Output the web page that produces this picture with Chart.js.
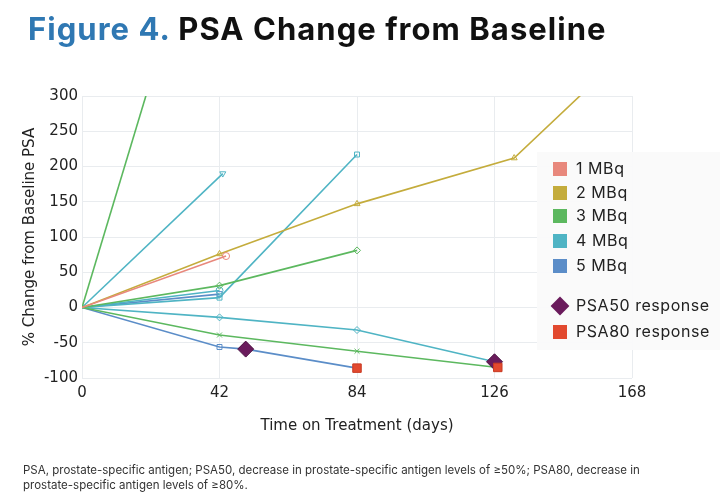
<!DOCTYPE html>
<html>
<head>
<meta charset="utf-8">
<script src="https://cdn.jsdelivr.net/npm/chart.js@4"></script>
<style>
  body { margin: 0; background: #fff; font-family: Inter, "Noto Sans", sans-serif; }
  #wrap { position: relative; width: 724px; height: 500px; overflow: hidden; }
  #chart { position: absolute; left: 0; top: 0; }
  #title { position: absolute; left: 28px; top: 10px; font-size: 31px; font-weight: 700; color: #111; letter-spacing: 1.05px; white-space: nowrap; }
  #title span { color: #2f78b3; }
  #legend { position: absolute; left: 537px; top: 152px; width: 183px; height: 198px; background: rgba(250,250,250,0.95); }
  .item { position: absolute; left: 16px; font-size: 16px; color: #222; white-space: nowrap; line-height: 18px; letter-spacing: 0.55px; }
  .sw { display: inline-block; width: 14px; height: 14px; vertical-align: -2px; margin-right: 9px; }
  #note { position: absolute; left: 23px; top: 463px; width: 660px; font-size: 11.5px; line-height: 15px; color: #333; }
</style>
</head>
<body>
<div id="wrap">
  <canvas id="chart" width="724" height="500"></canvas>
  <div id="title"><span>Figure 4.</span> PSA Change from Baseline</div>
  <div id="legend"></div>
  <div id="note">PSA, prostate-specific antigen; PSA50, decrease in prostate-specific antigen levels of ≥50%; PSA80, decrease in prostate-specific antigen levels of ≥80%.</div>
</div>
<script>
// data
const doseLabels = ['1 MBq', '2 MBq', '3 MBq', '4 MBq', '5 MBq'];
const xTicks = [0, 42, 84, 126, 168];
const yTicks = [-100, -50, 0, 50, 100, 150, 200, 250, 300];

// one entry per patient line: dose group, days, % change
const patientDose = [0, 1, 2, 2, 2, 3, 3, 3, 3, 4, 4];
const patientDays = [
  [0, 44],
  [0, 42, 84, 132, 168],
  [0, 42],
  [0, 42, 84],
  [0, 42, 84, 127],
  [0, 43],
  [0, 42, 84],
  [0, 42, 84, 126],
  [0, 42],
  [0, 42],
  [0, 42, 50, 84]
];
const patientPSA = [
  [0, 73],
  [0, 76, 147, 212, 370],
  [0, 646],
  [0, 31, 81],
  [0, -39, -62, -85],
  [0, 190],
  [0, 14, 217],
  [0, -14, -32, -77],
  [0, 24],
  [0, 19],
  [0, -56, -59, -86]
];
const psa50Days = [50, 126];
const psa50Vals = [-59, -77];
const psa80Days = [84, 127];
const psa80Vals = [-86, -85];

// styles
const doseColors = ['#e8887c', '#c4ac3c', '#5cb85f', '#4fb4c4', '#5b8dc8'];
const lineMarkers = ['circle', 'triangle', 'rectRot', 'rectRot', 'crossRot', 'triangle', 'rect', 'rectRot', 'circle', 'rect', 'rect'];
const markerRot = [0, 0, 0, 0, 0, 180, 0, 0, 0, 0, 0];

const datasets = [];
patientDays.forEach((days, i) => {
  const c = doseColors[patientDose[i]];
  datasets.push({
    label: doseLabels[patientDose[i]],
    data: days.map((d, j) => ({x: d, y: patientPSA[i][j]})),
    borderColor: c,
    backgroundColor: c,
    borderWidth: 1.6,
    pointStyle: lineMarkers[i],
    pointRotation: markerRot[i],
    pointRadius: days.map((d) => d === 0 ? 0 : 3.5),
    pointBorderWidth: 1,
    pointBackgroundColor: 'rgba(255,255,255,0)',
    pointBorderColor: c,
    tension: 0,
    order: 2
  });
});
datasets.push({
  label: 'PSA50 response',
  data: psa50Days.map((d, j) => ({x: d, y: psa50Vals[j]})),
  showLine: false,
  pointStyle: 'rectRot',
  pointRadius: 8,
  pointBackgroundColor: '#6a1b5c',
  pointBorderColor: '#4a1040',
  pointBorderWidth: 1,
  order: 1
});
datasets.push({
  label: 'PSA80 response',
  data: psa80Days.map((d, j) => ({x: d, y: psa80Vals[j]})),
  showLine: false,
  pointStyle: 'rect',
  pointRadius: 6,
  pointBackgroundColor: '#e2492f',
  pointBorderColor: '#c83a22',
  pointBorderWidth: 1,
  order: 0
});

const axisFamily = '"DejaVu Sans", Inter, sans-serif';
const tickFont = {family: axisFamily, size: 15};

new Chart(document.getElementById('chart'), {
  type: 'line',
  data: {datasets: datasets},
  options: {
    responsive: false,
    animation: false,
    layout: {padding: {top: 96, right: 92, bottom: 61, left: 15}},
    plugins: {legend: {display: false}, tooltip: {enabled: false}},
    scales: {
      x: {
        type: 'linear',
        min: 0, max: 168,
        afterBuildTicks: (s) => { s.ticks = xTicks.map(v => ({value: v})); },
        grid: {color: '#e9ecef', drawTicks: false},
        border: {display: false},
        ticks: {font: tickFont, color: '#222', padding: 6},
        title: {display: true, text: 'Time on Treatment (days)', font: {family: axisFamily, size: 15}, color: '#222', padding: {top: 9, bottom: 4}}
      },
      y: {
        min: -100, max: 300,
        afterBuildTicks: (s) => { s.ticks = yTicks.map(v => ({value: v})); },
        afterFit: (s) => { s.width = 67; },
        grid: {color: '#e9ecef', drawTicks: false},
        border: {display: false},
        ticks: {font: tickFont, color: '#222', padding: 4},
        title: {display: true, text: '% Change from Baseline PSA', font: {family: axisFamily, size: 15}, color: '#222', padding: 6}
      }
    }
  }
});

// legend box
const legend = document.getElementById('legend');
const legendRows = doseLabels.map((l, i) => ({text: l, color: doseColors[i], shape: 'sq'}));
legendRows.push({text: 'PSA50 response', color: '#6a1b5c', shape: 'dia'});
legendRows.push({text: 'PSA80 response', color: '#e2492f', shape: 'sq'});
const rowTops = [7, 31, 54, 79, 104, 144, 170];
legendRows.forEach((r, i) => {
  const d = document.createElement('div');
  d.className = 'item';
  d.style.top = rowTops[i] + 'px';
  const sw = document.createElement('span');
  sw.className = 'sw';
  sw.style.background = r.color;
  if (r.shape === 'dia') { sw.style.transform = 'rotate(45deg) scale(0.95)'; }
  d.appendChild(sw);
  d.appendChild(document.createTextNode(r.text));
  legend.appendChild(d);
});
</script>
</body>
</html>
